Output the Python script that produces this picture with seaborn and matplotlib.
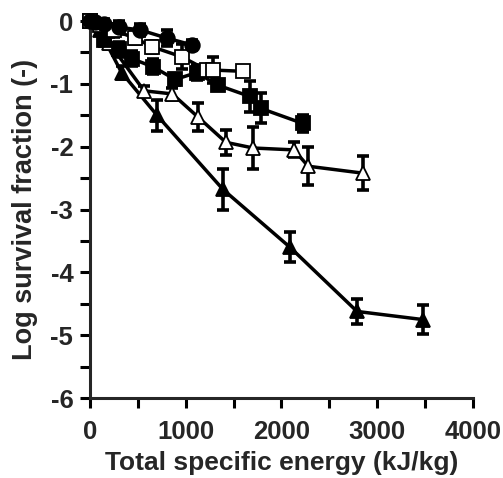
import numpy as np
import pandas as pd
import matplotlib
matplotlib.use("Agg")
import matplotlib.pyplot as plt
from matplotlib.ticker import MultipleLocator
import seaborn as sns

# values (kJ/kg, log survival fraction, error)
circ_x = [0, 50, 150, 300, 520, 800, 1065]
circ_y = [0, -0.02, -0.05, -0.1, -0.14, -0.27, -0.38]
circ_e = [0.05, 0.06, 0.08, 0.1, 0.1, 0.13, 0.08]

osq_x = [0, 100, 250, 470, 650, 960, 1220, 1285, 1600]
osq_y = [0, -0.06, -0.15, -0.27, -0.41, -0.57, -0.78, -0.78, -0.8]
osq_e = [0.05, 0.08, 0.1, 0.1, 0.1, 0.2, 0.08, 0.21, 0.08]

fsq_x = [0, 150, 300, 440, 660, 890, 1115, 1335, 1670, 1785, 2225]
fsq_y = [0, -0.3, -0.45, -0.6, -0.73, -0.93, -0.82, -1.02, -1.2, -1.39, -1.63]
fsq_e = [0.05, 0.1, 0.12, 0.12, 0.12, 0.08, 0.12, 0.06, 0.24, 0.24, 0.13]

otri_x = [0, 200, 565, 860, 1130, 1420, 1705, 2130, 2280, 2850]
otri_y = [0, -0.35, -1.11, -1.16, -1.53, -1.93, -2.02, -2.05, -2.31, -2.42]
otri_e = [0.05, 0.1, 0.08, 0.1, 0.22, 0.2, 0.33, 0.12, 0.3, 0.27]

ftri_x = [0, 100, 330, 700, 1390, 2090, 2790, 3480]
ftri_y = [0, -0.15, -0.82, -1.5, -2.68, -3.6, -4.62, -4.75]
ftri_e = [0.05, 0.08, 0.1, 0.25, 0.33, 0.24, 0.2, 0.23]

series = [
    (circ_x, circ_y, circ_e, "o", "black"),
    (osq_x, osq_y, osq_e, "s", "white"),
    (fsq_x, fsq_y, fsq_e, "s", "black"),
    (otri_x, otri_y, otri_e, "^", "white"),
    (ftri_x, ftri_y, ftri_e, "^", "black"),
]

sns.set_style("ticks")
plt.rcParams["font.family"] = ["Liberation Sans", "DejaVu Sans"]
plt.rcParams["font.weight"] = "bold"

fig = plt.figure(figsize=(5.03, 4.78), dpi=100)
ax = fig.add_axes([0.179, 0.167, 0.761, 0.789])

for x, y, e, m, fc in reversed(series):
    ax.errorbar(x, y, yerr=e, fmt="none", ecolor="black", elinewidth=2.6,
                capsize=4, capthick=2.6, clip_on=False, zorder=2)
    df = pd.DataFrame({"x": x, "y": y})
    sns.lineplot(data=df, x="x", y="y", ax=ax, color="black", linewidth=2.5,
                 marker=m, markersize=10.5, markerfacecolor=fc,
                 markeredgecolor="black", markeredgewidth=1.3,
                 clip_on=False, zorder=3, sort=False)

ax.set_xlim(0, 4000)
ax.set_ylim(-6, 0)
ax.xaxis.set_major_locator(MultipleLocator(1000))
ax.xaxis.set_minor_locator(MultipleLocator(500))
ax.yaxis.set_major_locator(MultipleLocator(1))
ax.yaxis.set_minor_locator(MultipleLocator(0.5))
ax.tick_params(which="both", direction="out", width=2.2, color="black",
               labelsize=18.5, length=7)
ax.tick_params(axis="x", pad=9)
ax.tick_params(axis="y", pad=5)
ax.set_yticks(range(-6, 1))
ax.set_yticklabels([str(v) for v in range(-6, 1)])
for s in ["left", "bottom"]:
    ax.spines[s].set_linewidth(2.2)
sns.despine(ax=ax)

ax.set_xlabel("Total specific energy (kJ/kg)", fontsize=19, fontweight="bold",
              labelpad=5)
ax.set_ylabel("Log survival fraction (-)", fontsize=19.5, fontweight="bold",
              labelpad=9)

fig.savefig("out.png", dpi=100)
